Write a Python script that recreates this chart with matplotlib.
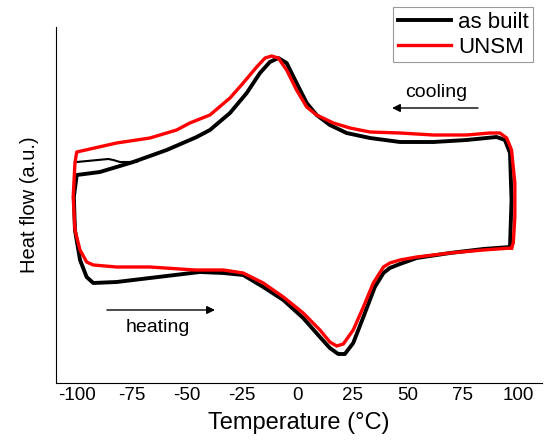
import matplotlib
matplotlib.use('Agg')
import matplotlib.pyplot as plt

# values (temperature in C, heat flow in a.u.)
built_t = [96.4, 97.1, 96.4, 94.1, 90.3, 76.7, 61.6, 46.5, 32.9, 22.3, 14.7, 8.7, 4.2, -0.4, -4.9, -8.7,
           -12.5, -17.0, -23.0, -30.6, -39.7, -45.7, -48.8, -59.3, -74.5, -89.6, -100.1, -101.4, -100.9,
           -98.6, -95.6, -92.6, -82.0, -66.9, -44.2, -33.6, -24.6, -15.5, -6.4, 2.6, 10.2, 14.7, 18.5,
           21.5, 25.3, 29.9, 35.1, 39.0, 41.9, 46.5, 54.1, 69.2, 84.3, 96.4]
built_hf = [13.6, 18.3, 23.0, 24.3, 24.6, 24.3, 24.1, 24.1, 24.5, 25.0, 25.8, 26.8, 28.0, 30.0, 32.0, 32.5,
            32.1, 31.0, 29.0, 27.0, 25.3, 24.6, 24.3, 23.3, 22.1, 21.1, 20.8, 18.6, 15.3,
            12.3, 10.6, 10.0, 10.1, 10.5, 11.1, 11.0, 10.8, 9.6, 8.3, 6.5, 4.6, 3.5, 2.9,
            2.9, 4.0, 6.6, 9.6, 11.0, 11.5, 11.9, 12.5, 13.0, 13.4, 13.6]

# second as-built cooling trace near -100 C
built2_t = [-100.1, -85.8, -83.5, -80.5, -72.9]
built2_hf = [22.1, 22.4, 22.3, 22.1, 22.1]

unsm_t = [97.1, 97.9, 98.6, 98.6, 97.1, 94.9, 91.8, 87.3, 76.7, 61.6, 46.5, 32.9, 23.8, 16.3, 8.7, 4.2,
          -0.4, -4.9, -8.7, -11.7, -14.7, -18.5, -24.6, -30.6, -39.7, -48.8, -54.8, -66.9, -82.0,
          -100.1, -100.9, -101.7, -100.9, -98.6, -95.6, -92.6, -82.0, -66.9, -46.5, -33.6, -24.6,
          -15.5, -6.4, 2.6, 10.2, 14.7, 17.8, 20.8, 25.3, 29.9, 34.4, 39.0, 41.9, 46.5, 54.1, 69.2,
          84.3, 97.1]
unsm_hf = [13.5, 14.0, 16.6, 20.0, 23.3, 24.5, 25.0, 25.0, 24.8, 24.8, 25.0, 25.1, 25.5, 26.0, 26.8, 27.6,
           29.3, 31.3, 32.5, 32.7, 32.5, 31.6, 30.0, 28.5, 26.8, 26.0, 25.3, 24.5, 24.0,
           23.1, 22.0, 18.6, 15.3, 13.3, 12.1, 11.8, 11.6, 11.6, 11.3, 11.3, 11.0,
           10.0, 8.6, 7.0, 5.3, 4.1, 3.7, 3.9, 5.3, 7.6, 10.0, 11.6, 12.0, 12.3, 12.6, 13.0,
           13.3, 13.5]

xticks = [-100, -75, -50, -25, 0, 25, 50, 75, 100]

plt.rcParams['font.family'] = ['Liberation Sans', 'DejaVu Sans']

fig = plt.figure(figsize=(5.5, 4.42), dpi=100)
ax = fig.add_axes([0.1018, 0.1335, 0.8836, 0.8054])

ax.plot(built_t, built_hf, color='black', lw=2.8, label='as built', solid_joinstyle='round')
ax.plot(built2_t, built2_hf, color='black', lw=1.5, solid_joinstyle='round')
ax.plot(unsm_t, unsm_hf, color='#ff0000', lw=2.4, label='UNSM', solid_joinstyle='round')

ax.set_xlim(-109.5, 110.9)
ax.set_ylim(0, 35.6)
ax.set_xticks(xticks)
ax.set_xticklabels([str(t) for t in xticks], fontsize=13.5)
ax.set_yticks([])
ax.tick_params(axis='x', length=0, pad=3)
ax.spines['top'].set_visible(False)
ax.spines['right'].set_visible(False)
ax.set_xlabel('Temperature (°C)', fontsize=17, labelpad=6)
ax.set_ylabel('Heat flow (a.u.)', fontsize=14.5, labelpad=12)

ax.annotate('', xy=(42.9, 27.5), xytext=(81.9, 27.5),
            arrowprops=dict(arrowstyle='-|>', color='black', lw=1, mutation_scale=12,
                            shrinkA=0, shrinkB=0))
ax.annotate('', xy=(-37.4, 7.3), xytext=(-86.4, 7.3),
            arrowprops=dict(arrowstyle='-|>', color='black', lw=1, mutation_scale=12,
                            shrinkA=0, shrinkB=0))

ax.text(62.8, 29.1, 'cooling', fontsize=14, ha='center', va='center')
ax.text(-63.3, 5.5, 'heating', fontsize=14, ha='center', va='center')

leg = fig.legend(loc='upper right', bbox_to_anchor=(0.969, 0.984), fontsize=16,
                 handlelength=2.4, fancybox=False, framealpha=1, edgecolor='#999999',
                 borderpad=0.2, labelspacing=0.2, handletextpad=0.3, borderaxespad=0)
leg.get_frame().set_linewidth(0.8)

plt.savefig('out.png', dpi=100)
plt.close()
